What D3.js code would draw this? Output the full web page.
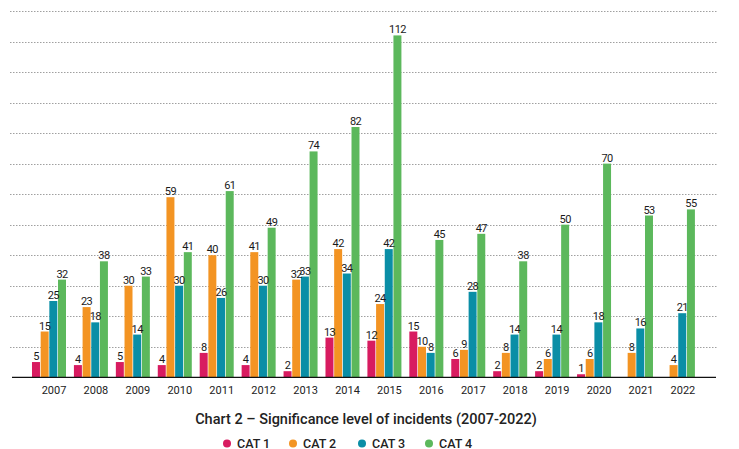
<!DOCTYPE html>
<html>
<head>
<meta charset="utf-8">
<script src="https://cdn.jsdelivr.net/npm/d3@7"></script>
<style>
  html, body { margin: 0; padding: 0; background: #fff; }
  svg { display: block; font-family: Roboto, "Noto Sans", sans-serif; }
</style>
</head>
<body>
<svg id="chart" width="739" height="449"></svg>
<script>
const years = ["2007","2008","2009","2010","2011","2012","2013","2014","2015","2016","2017","2018","2019","2020","2021","2022"];
const categories = ["CAT 1","CAT 2","CAT 3","CAT 4"];
const cat1 = [5,4,5,4,8,4,2,13,12,15,6,2,2,1,0,0];
const cat2 = [15,23,30,59,40,41,32,42,24,10,9,8,6,6,8,4];
const cat3 = [25,18,14,30,26,30,33,34,42,8,28,14,14,18,16,21];
const cat4 = [32,38,33,41,61,49,74,82,112,45,47,38,50,70,53,55];
const yTicks = [10,20,30,40,50,60,70,80,90,100,110,120];
const title = "Chart 2 \u2013 Significance level of incidents (2007-2022)";
const colors = ["#d81b60","#f39423","#0a8ea6","#5cb85c"];

const series = [cat1, cat2, cat3, cat4];
const svg = d3.select("#chart");

const x0 = d3.scaleBand().domain(years).range([27.8, 699.1]).paddingInner(0.189).paddingOuter(0.1);
const x1 = d3.scaleBand().domain(categories).range([0, x0.bandwidth()]).paddingInner(0.08).paddingOuter(0);
const y = d3.scaleLinear().domain([0, 120]).range([377.3, 11]);
const color = d3.scaleOrdinal().domain(categories).range(colors);

// gridlines
svg.append("g").selectAll("line").data(yTicks).join("line")
  .attr("x1", 10).attr("x2", 717)
  .attr("y1", d => Math.round(y(d)) + 0.5).attr("y2", d => Math.round(y(d)) + 0.5)
  .attr("stroke", "#a0a0a0").attr("stroke-width", 1).attr("stroke-dasharray", "1.5,1.5");

const rows = [];
years.forEach((yr, i) => categories.forEach((c, j) => rows.push({year: yr, cat: c, value: series[j][i]})));

const g = svg.append("g");
g.selectAll("rect").data(rows.filter(d => d.value > 0)).join("rect")
  .attr("x", d => x0(d.year) + x1(d.cat))
  .attr("width", x1.bandwidth())
  .attr("y", d => y(d.value))
  .attr("height", d => y(0) - y(d.value))
  .attr("fill", d => color(d.cat));

g.selectAll("text").data(rows.filter(d => d.value > 0)).join("text")
  .attr("x", d => x0(d.year) + x1(d.cat) + x1.bandwidth() / 2)
  .attr("y", d => y(d.value) - 2)
  .attr("text-anchor", "middle")
  .attr("font-size", 11)
  .attr("letter-spacing", "-0.6")
  .attr("fill", "#1a1a1a")
  .text(d => d.value);

// baseline
svg.append("line").attr("x1", 12).attr("x2", 716)
  .attr("y1", y(0)).attr("y2", y(0))
  .attr("stroke", "#111").attr("stroke-width", 1.2);

// x axis labels
const xAxis = d3.axisBottom(x0).tickSize(0).tickPadding(0);
const ax = svg.append("g").attr("transform", `translate(5, 386)`).call(xAxis);
ax.select(".domain").remove();
ax.selectAll("text").attr("font-size", 11).attr("fill", "#222").attr("font-family", "Roboto, sans-serif");

// title
svg.append("text").attr("x", 366).attr("y", 424).attr("text-anchor", "middle")
  .attr("font-size", 14.5).attr("font-weight", 500).attr("fill", "#222").text(title);

// legend
const legendX = [227, 293, 362, 429];
const lg = svg.append("g").selectAll("g").data(categories).join("g")
  .attr("transform", (d, i) => `translate(${legendX[i]}, 443.5)`);
lg.append("circle").attr("r", 4).attr("fill", d => color(d));
lg.append("text").attr("x", 10).attr("y", 4.2).attr("font-size", 12.5).attr("font-weight", 500)
  .attr("fill", "#222").text(d => d);
</script>
</body>
</html>
